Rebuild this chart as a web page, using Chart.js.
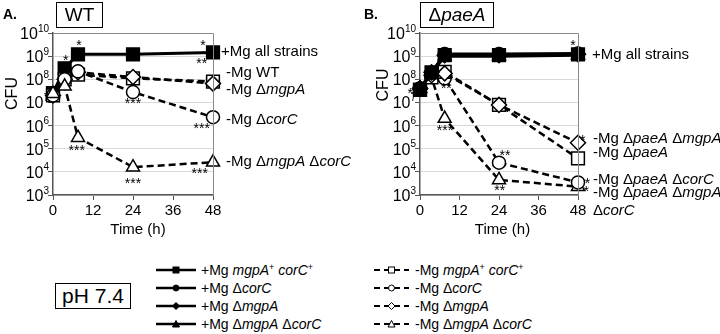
<!DOCTYPE html>
<html>
<head>
<meta charset="utf-8">
<script src="https://cdn.jsdelivr.net/npm/chart.js@4.4.1/dist/chart.umd.min.js"></script>
<style>
  body { margin: 0; background: #fff; }
  #fig { position: relative; width: 720px; height: 334px; overflow: hidden; font-family: "Liberation Sans", Arial, sans-serif; color: #000; }
  #fig canvas { position: absolute; top: 0; }
  .tag { position: absolute; font-weight: bold; font-size: 14px; }
  .tbox { position: absolute; border: 1.2px solid #000; font-size: 19px; text-align: center; box-sizing: border-box; line-height: 23px; }
  .row { position: absolute; height: 18px; line-height: 18px; font-size: 14px; white-space: nowrap; }
  .row svg { position: absolute; top: 2px; }
  .row sup { font-size: 9px; vertical-align: 5px; line-height: 0; }
</style>
</head>
<body>
<div id="fig">
  <canvas id="cA" width="360" height="250" style="left:0"></canvas>
  <canvas id="cB" width="360" height="250" style="left:360px"></canvas>
  <div class="tag" style="left:3px;top:6px">A.</div>
  <div class="tbox" style="left:56px;top:2px;width:47px;height:26px">WT</div>
  <div class="tag" style="left:364px;top:6px">B.</div>
  <div class="tbox" style="left:420px;top:2px;width:74px;height:26px">Δ<i>paeA</i></div>
  <div class="tbox" style="left:55px;top:283px;width:76px;height:26px;font-size:21px;line-height:24px">pH 7.4</div>
  <div id="legend"></div>
</div>
<script>
// sampling times (h)
const times = [0, 3.5, 7.5, 24, 48];
const yTicks = [1e3, 1e4, 1e5, 1e6, 1e7, 1e8, 1e9, 1e10];
const xTicks = [0, 12, 24, 36, 48];

// panel A, WT background
const wtPlusMg = [2.5e7, 3e8, 1.2e9, 1.2e9, 1.45e9];
const wtMinusMg = [2e7, 1e8, 1.6e8, 1.1e8, 8e7];
const wtMinusMgpA = [2e7, 1e8, 2e8, 1.25e8, 6.5e7];
const wtMinusCorC = [2e7, 1e8, 2.2e8, 2.8e7, 2.3e6];
const wtMinusBoth = [2.4e7, 5e7, 3e5, 1.6e4, 2.6e4];

// panel B, paeA background
const paePlusMg = [3.5e7, 2e8, 1.1e9, 1.1e9, 1.2e9];
const paePlusCorC = [4e7, 1.9e8, 1.25e9, 1.25e9, 1.3e9];
const paePlusMgpA = [4e7, 2e8, 1.1e9, 1.1e9, 1.2e9];
const paePlusBoth = [4e7, 1.8e8, 1e9, 1e9, 1.1e9];
const paeMinusMg = [3.5e7, 1.2e8, 2.1e8, 7.8e6, 3.8e4];
const paeMinusMgpA = [4e7, 1.5e8, 1.8e8, 7.8e6, 1.8e5];
const paeMinusCorC = [4e7, 1.5e8, 1.1e8, 2.5e4, 3.5e3];
const paeMinusBoth = [4e7, 1.2e8, 2e6, 4.5e3, 2.3e3];

// significance marks: [time, CFU, text]
const wtStars = [
  [3.8, 9.5e8, "*"], [7.8, 4.2e9, "*"], [45, 4.2e9, "*"], [44.6, 6.8e8, "**"],
  [24, 1.3e7, "***"], [44.6, 1.05e6, "***"], [7.1, 1.2e5, "***"],
  [24, 4.5e3, "***"], [44, 1.2e4, "***"]
];
const paeStars = [
  [46.5, 4.2e9, "*"], [-3, 3.5e7, "*"], [8, 5.6e7, "**"], [7.6, 9e5, "***"],
  [25.8, 7.4e4, "**"], [24.2, 2.3e3, "**"], [50.9, 4.5e3, "*"], [50.5, 2e3, "*"],
  [49.4, 3.2e5, "*"]
];

// series names at the right of each panel: [CFU, parts [text, italic]]
const wtNames = [
  [1.5e9, [["+Mg all strains", 0]]],
  [1.9e8, [["-Mg WT", 0]]],
  [3.5e7, [["-Mg Δ", 0], ["mgpA", 1]]],
  [1.75e6, [["-Mg Δ", 0], ["corC", 1]]],
  [2.7e4, [["-Mg Δ", 0], ["mgpA", 1], [" Δ", 0], ["corC", 1]]]
];
const paeNames = [
  [1.1e9, [["+Mg all strains", 0]]],
  [2.6e5, [["-Mg Δ", 0], ["paeA", 1], [" Δ", 0], ["mgpA", 1]]],
  [6.5e4, [["-Mg Δ", 0], ["paeA", 1]]],
  [4.5e3, [["-Mg Δ", 0], ["paeA", 1], [" Δ", 0], ["corC", 1]]],
  [1.2e3, [["-Mg Δ", 0], ["paeA", 1], [" Δ", 0], ["mgpA", 1]]],
  [2e2, [["Δ", 0], ["corC", 1]]]
];

const legendPlus = [
  ["rect", "+Mg <i>mgpA</i><sup>+</sup> <i>corC</i><sup>+</sup>"],
  ["circle", "+Mg Δ<i>corC</i>"],
  ["rectRot", "+Mg Δ<i>mgpA</i>"],
  ["triangle", "+Mg Δ<i>mgpA</i> Δ<i>corC</i>"]
];
const legendMinus = [
  ["rect", "-Mg <i>mgpA</i><sup>+</sup> <i>corC</i><sup>+</sup>"],
  ["circle", "-Mg Δ<i>corC</i>"],
  ["rectRot", "-Mg Δ<i>mgpA</i>"],
  ["triangle", "-Mg Δ<i>mgpA</i> Δ<i>corC</i>"]
];

const FONT = '"Liberation Sans", Arial, sans-serif';
const RADIUS = { rect: 9, circle: 6.5, rectRot: 7.5, triangle: 7.5 };

function series(values, style, filled, order) {
  return {
    data: values.map((v, i) => ({ x: times[i], y: v })),
    borderColor: "#000",
    borderWidth: filled ? 3 : 2.5,
    borderDash: filled ? [] : [7, 4],
    pointStyle: style,
    pointRadius: RADIUS[style],
    pointBorderWidth: 1.5,
    pointBackgroundColor: filled ? "#000" : "#fff",
    pointBorderColor: "#000",
    clip: false,
    order: order
  };
}

const overlay = {
  id: "overlay",
  afterDraw(chart, args, o) {
    const ctx = chart.ctx, a = chart.chartArea;
    const xs = chart.scales.x, ys = chart.scales.y;
    ctx.save();
    // frame top and right
    ctx.strokeStyle = "#8a8a8a";
    ctx.lineWidth = 1;
    ctx.beginPath();
    ctx.moveTo(a.left, a.top + 0.5);
    ctx.lineTo(a.right + 0.5, a.top + 0.5);
    ctx.lineTo(a.right + 0.5, a.bottom);
    ctx.stroke();
    ctx.fillStyle = "#000";
    // y tick labels 10^n
    for (const v of yTicks) {
      const y = ys.getPixelForValue(v);
      const e = String(Math.round(Math.log10(v)));
      ctx.font = "10px " + FONT;
      const sw = ctx.measureText(e).width;
      ctx.font = "16px " + FONT;
      const mw = ctx.measureText("10").width;
      const xr = a.left - 4;
      ctx.textAlign = "left";
      ctx.textBaseline = "alphabetic";
      ctx.fillText("10", xr - sw - mw, y + 6);
      ctx.font = "10px " + FONT;
      ctx.fillText(e, xr - sw, y - 1.5);
    }
    // axis titles
    ctx.font = "16px " + FONT;
    ctx.textAlign = "center";
    ctx.textBaseline = "middle";
    ctx.save();
    ctx.translate(o.cfu[0], o.cfu[1]);
    ctx.rotate(-Math.PI / 2);
    ctx.fillText("CFU", 0, 0);
    ctx.restore();
    ctx.font = "15px " + FONT;
    ctx.fillText("Time (h)", o.time[0], o.time[1]);
    // asterisks
    ctx.font = "14px " + FONT;
    ctx.textBaseline = "alphabetic";
    for (const [t, v, s] of o.stars) {
      ctx.fillText(s, xs.getPixelForValue(t), ys.getPixelForValue(v) + 8);
    }
    // series names
    ctx.textAlign = "left";
    ctx.textBaseline = "middle";
    o.names.forEach(([v, parts], i) => {
      let x = a.right + (i === 0 ? o.dx[0] : o.dx[1]);
      const size = i === 0 ? 15 : o.size;
      const y = ys.getPixelForValue(v);
      for (const [txt, it] of parts) {
        ctx.font = (it ? "italic " : "") + size + "px " + FONT;
        ctx.fillText(txt, x, y);
        x += ctx.measureText(txt).width;
      }
    });
    ctx.restore();
  }
};

function panel(id, datasets, leftW, rightPad, opts) {
  return new Chart(document.getElementById(id), {
    type: "line",
    data: { datasets: datasets },
    plugins: [overlay],
    options: {
      responsive: false,
      animation: false,
      devicePixelRatio: 1,
      layout: { padding: { top: 33, right: rightPad, left: 0, bottom: 0 } },
      plugins: { legend: { display: false }, tooltip: { enabled: false }, overlay: opts },
      scales: {
        x: {
          type: "linear", min: 0, max: 48,
          afterBuildTicks: s => { s.ticks = xTicks.map(v => ({ value: v })); },
          afterFit: s => { s.height = 55; },
          ticks: { color: "#000", font: { size: 15, family: FONT }, padding: 2, maxRotation: 0 },
          grid: { drawOnChartArea: false, tickLength: 5, tickColor: "#555" },
          border: { color: "#555", width: 1.5 }
        },
        y: {
          type: "logarithmic", min: 1e3, max: 1e10,
          afterBuildTicks: s => { s.ticks = yTicks.map(v => ({ value: v })); },
          afterFit: s => { s.width = leftW; },
          ticks: { display: false },
          grid: { color: "#d9d9d9", tickLength: 5, tickColor: "#555", lineWidth: 1 },
          border: { color: "#555", width: 1.5 }
        }
      }
    }
  });
}

panel("cA", [
  series(wtMinusBoth, "triangle", false, 1),
  series(wtMinusCorC, "circle", false, 2),
  series(wtMinusMgpA, "rectRot", false, 3),
  series(wtMinusMg, "rect", false, 4),
  series(wtPlusMg, "rect", true, 5)
], 53, 147, { stars: wtStars, names: wtNames, dx: [8, 13], size: 15, cfu: [12.5, 93.5], time: [138, 230] });

panel("cB", [
  series(paePlusMg, "rect", true, 1),
  series(paePlusCorC, "circle", true, 2),
  series(paePlusMgpA, "rectRot", true, 3),
  series(paePlusBoth, "triangle", true, 4),
  series(paeMinusMgpA, "rectRot", false, 5),
  series(paeMinusMg, "rect", false, 6),
  series(paeMinusCorC, "circle", false, 7),
  series(paeMinusBoth, "triangle", false, 8)
], 60, 142, { stars: paeStars, names: paeNames, dx: [14, 15], size: 15, cfu: [24, 85], time: [142.5, 230] });

// legend below the panels
function markerSvg(shape, filled, w) {
  const fill = filled ? "#000" : "#fff";
  const c = w / 2;
  const line = filled
    ? `<line x1="0" y1="7" x2="${w}" y2="7" stroke="#000" stroke-width="2.5"/>`
    : `<line x1="0" y1="7" x2="${w}" y2="7" stroke="#000" stroke-width="2" stroke-dasharray="6,4"/>`;
  let m;
  if (shape === "rect") m = `<rect x="${c - 3}" y="4" width="6" height="6"/>`;
  else if (shape === "circle") m = `<circle cx="${c}" cy="7" r="3"/>`;
  else if (shape === "rectRot") m = `<polygon points="${c},3.5 ${c + 3.5},7 ${c},10.5 ${c - 3.5},7"/>`;
  else m = `<polygon points="${c},3.5 ${c + 3.5},10 ${c - 3.5},10"/>`;
  m = m.replace("/>", ` fill="${fill}" stroke="#000" stroke-width="1"/>`);
  return `<svg width="${w}" height="14">${line}${m}</svg>`;
}

const rowsY = [261, 279, 297, 315];
let html = "";
legendPlus.forEach(([shape, label], i) => {
  html += `<div class="row" style="left:156px;top:${rowsY[i]}px">${markerSvg(shape, true, 40)}<span style="position:absolute;left:45px">${label}</span></div>`;
});
legendMinus.forEach(([shape, label], i) => {
  html += `<div class="row" style="left:374px;top:${rowsY[i]}px">${markerSvg(shape, false, 35)}<span style="position:absolute;left:41px">${label}</span></div>`;
});
document.getElementById("legend").innerHTML = html;
</script>
</body>
</html>
